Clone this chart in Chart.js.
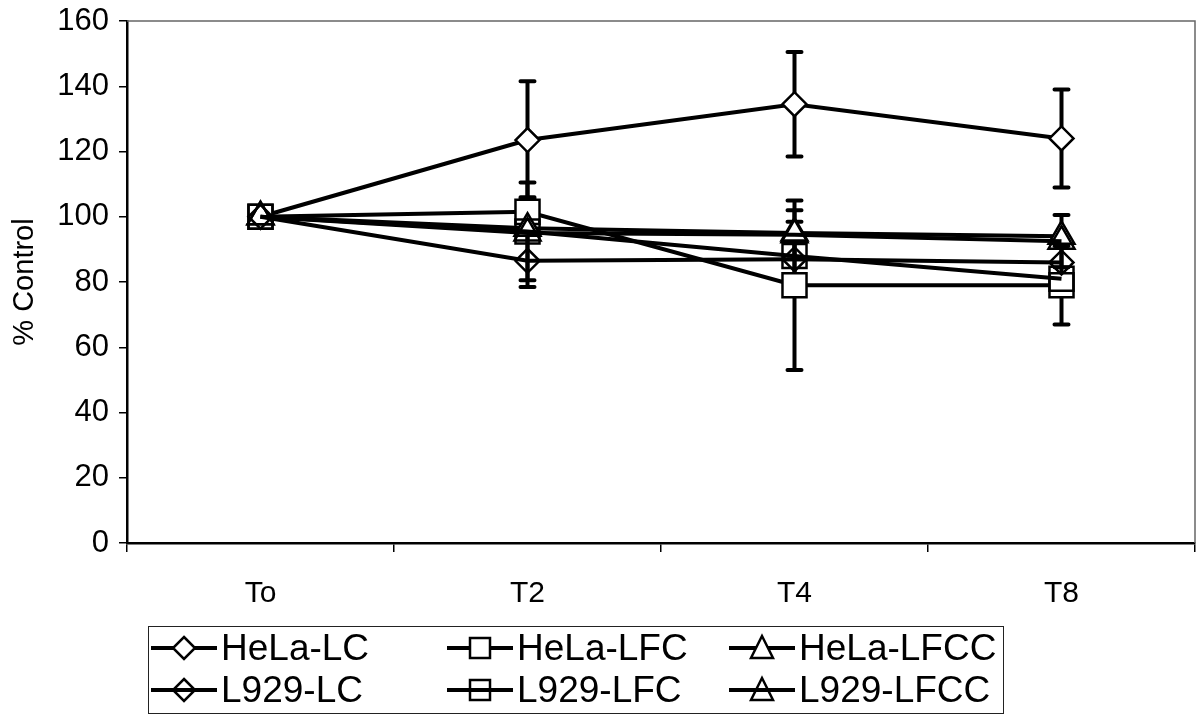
<!DOCTYPE html>
<html>
<head>
<meta charset="utf-8">
<title>% Control over time</title>
<script src="https://cdn.jsdelivr.net/npm/chart.js@4.4.1/dist/chart.umd.min.js"></script>
<style>
    body { margin: 0; background: #fff; }
    #wrap { position: relative; width: 1196px; height: 722px; }
    #chart { position: absolute; left: 0; top: 0; }
    #legend {
        position: absolute; left: 148px; top: 626px; width: 856px; height: 88px;
        border: 1.5px solid #222; box-sizing: border-box;
        font-family: "Liberation Sans", Arial, sans-serif; font-size: 37px; color: #000;
    }
    .item { position: absolute; display: flex; align-items: center; white-space: nowrap; height: 42px; line-height: 42px; }
    .item svg { margin-right: 4px; }
</style>
</head>
<body>
<div id="wrap">
    <canvas id="chart" width="1196" height="722"></canvas>
    <div id="legend"></div>
</div>
<script>
// Data
const categories = ['To', 'T2', 'T4', 'T8'];

const helaLC = [100, 123.5, 134.5, 124];
const helaLCErr = [0, 18, 16, 15];

const helaLFC = [100, 101.5, 79, 79];
const helaLFCErr = [0, 4.5, 26, 12];

const helaLFCC = [100, 96.5, 95, 94];
const helaLFCCErr = [0, 0, 0, 0];

const l929LC = [100, 86.5, 87, 86];
const l929LCErr = [0, 8, 0, 0];

const l929LFC = [100, 95.5, 88, 81];
const l929LFCErr = [0, 15, 10.5, 0];

const l929LFCC = [100, 95, 94.5, 92.5];
const l929LFCCErr = [0, 0, 7.5, 8];

const yTicks = [0, 20, 40, 60, 80, 100, 120, 140, 160];

const FONT = '"Liberation Sans", Arial, sans-serif';

// series list: label, values, errors, marker, filled white or see-through
const seriesList = [
    { label: 'HeLa-LC',   data: helaLC,   err: helaLCErr,   shape: 'rectRot',  r: 12, open: false },
    { label: 'HeLa-LFC',  data: helaLFC,  err: helaLFCErr,  shape: 'rect',     r: 17, open: false },
    { label: 'HeLa-LFCC', data: helaLFCC, err: helaLFCCErr, shape: 'triangle', r: 15, open: false },
    { label: 'L929-LC',   data: l929LC,   err: l929LCErr,   shape: 'rectRot',  r: 12, open: true },
    { label: 'L929-LFC',  data: l929LFC,  err: l929LFCErr,  shape: 'rect',     r: 17, open: true },
    { label: 'L929-LFCC', data: l929LFCC, err: l929LFCCErr, shape: 'triangle', r: 15, open: true }
];

// error bars, drawn under the lines and markers
const errorBarPlugin = {
    id: 'errorBars',
    beforeDatasetsDraw(chart) {
        const ctx = chart.ctx;
        const x = chart.scales.x;
        const y = chart.scales.y;
        ctx.save();
        ctx.strokeStyle = '#000';
        ctx.lineWidth = 4;
        ctx.lineCap = 'round';
        seriesList.forEach(s => {
            s.data.forEach((v, i) => {
                const e = s.err[i];
                if (!e) return;
                const px = x.getPixelForValue(i);
                const top = y.getPixelForValue(v + e);
                const bot = y.getPixelForValue(v - e);
                ctx.beginPath();
                ctx.moveTo(px, top);
                ctx.lineTo(px, bot);
                ctx.moveTo(px - 7, top);
                ctx.lineTo(px + 7, top);
                ctx.moveTo(px - 7, bot);
                ctx.lineTo(px + 7, bot);
                ctx.stroke();
            });
        });
        ctx.restore();
    }
};

// thin frame on top and right of the plot area
const framePlugin = {
    id: 'frame',
    beforeDatasetsDraw(chart) {
        const { ctx, chartArea: a } = chart;
        ctx.save();
        ctx.strokeStyle = '#666';
        ctx.lineWidth = 1.5;
        ctx.beginPath();
        ctx.moveTo(a.left, a.top);
        ctx.lineTo(a.right, a.top);
        ctx.lineTo(a.right, a.bottom);
        ctx.stroke();
        ctx.restore();
    }
};

const datasets = seriesList.map((s, i) => ({
    label: s.label,
    data: s.data,
    borderColor: '#000',
    borderWidth: 4,
    tension: 0,
    fill: false,
    pointStyle: s.shape,
    pointRadius: s.r,
    pointHoverRadius: s.r,
    pointBorderWidth: 2.5,
    pointBorderColor: '#000',
    pointBackgroundColor: s.open ? 'rgba(255,255,255,0)' : '#fff',
    order: seriesList.length - 1 - i
}));

new Chart(document.getElementById('chart'), {
    type: 'line',
    data: { labels: categories, datasets: datasets },
    options: {
        responsive: false,
        animation: false,
        devicePixelRatio: 1,
        layout: { autoPadding: false, padding: { left: 0, right: 1, top: 21, bottom: 109 } },
        plugins: {
            legend: { display: false },
            tooltip: { enabled: false }
        },
        scales: {
            x: {
                offset: true,
                grid: { drawOnChartArea: false, offset: true, color: '#000', tickLength: 9, lineWidth: 1.5 },
                border: { color: '#000', width: 2.5 },
                ticks: { color: '#000', font: { family: FONT, size: 30 }, padding: 24, maxRotation: 0 },
                afterFit(scale) {
                    scale.height = 70;
                    scale.paddingLeft = 0;
                    scale.paddingRight = 0;
                }
            },
            y: {
                min: 0,
                max: 160,
                afterBuildTicks(scale) { scale.ticks = yTicks.map(v => ({ value: v })); },
                grid: { drawOnChartArea: false, color: '#000', tickLength: 8, lineWidth: 1.5 },
                border: { color: '#000', width: 2.5 },
                ticks: { color: '#000', font: { family: FONT, size: 31 }, padding: 10 },
                title: {
                    display: true,
                    text: '% Control',
                    color: '#000',
                    font: { family: FONT, size: 29 },
                    padding: { top: 8, bottom: 0 }
                },
                afterFit(scale) {
                    scale.width = 127;
                    scale.paddingTop = 0;
                    scale.paddingBottom = 0;
                }
            }
        }
    },
    plugins: [framePlugin, errorBarPlugin]
});

// legend: line + marker icons, laid out like the original (3 columns x 2 rows)
function markerSvg(shape) {
    if (shape === 'rectRot') return '<polygon points="33,4 44,15 33,26 22,15" fill="#fff" stroke="#000" stroke-width="2.5"/>';
    if (shape === 'rect') return '<rect x="23" y="5" width="20" height="20" fill="#fff" stroke="#000" stroke-width="2.5"/>';
    return '<polygon points="33,3 44,25 22,25" fill="#fff" stroke="#000" stroke-width="2.5"/>';
}

const legend = document.getElementById('legend');
const colLeft = [2, 298, 580];
const rowTop = [0, 42];
seriesList.forEach((s, i) => {
    const line = '<line x1="0" y1="15" x2="66" y2="15" stroke="#000" stroke-width="4"/>';
    const icon = s.open ? markerSvg(s.shape) + line : line + markerSvg(s.shape);
    const item = document.createElement('div');
    item.className = 'item';
    item.style.left = colLeft[i % 3] + 'px';
    item.style.top = rowTop[Math.floor(i / 3)] + 'px';
    item.innerHTML = '<svg width="66" height="30" viewBox="0 0 66 30">' + icon + '</svg><span>' + s.label + '</span>';
    legend.appendChild(item);
});
</script>
</body>
</html>
